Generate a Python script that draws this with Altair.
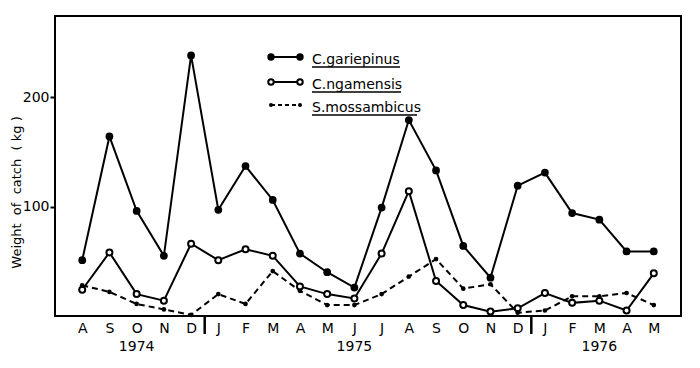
import altair as alt
import pandas as pd

# ---- data ----
months = ["A", "S", "O", "N", "D",
          "J", "F", "M", "A", "M", "J", "J", "A", "S", "O", "N", "D",
          "J", "F", "M", "A", "M"]
gariepinus = [51, 164, 96, 55, 238, 97, 137, 106, 57, 40, 26, 99, 179, 133,
              64, 35, 119, 131, 94, 88, 59, 59]
ngamensis = [24, 58, 20, 14, 66, 51, 61, 55, 27, 20, 16, 57, 114, 32,
             10, 4, 7, 21, 12, 14, 5, 39]
mossambicus = [28, 22, 11, 6, 1, 20, 11, 41, 23, 10, 10, 20, 36, 52,
               25, 29, 3, 5, 18, 18, 21, 10]
years = ["1974", "1975", "1976"]
year_index = [2, 10, 19]
year_breaks = [4.5, 16.5]
y_ticks = [100, 200]

FONT = "DejaVu Sans"
idx = list(range(len(months)))
NB = "\u00a0"

def frame(vals):
    return pd.DataFrame({"i": idx, "v": vals})

label_expr = "[" + ",".join(f"'{m}'" for m in months) + "][datum.value]"
xs = alt.Scale(domain=[-1, 22], nice=False, zero=False)
ys = alt.Scale(domain=[0, 274], nice=False, zero=True)
x_axis = alt.Axis(
    values=idx, labelExpr=label_expr, tickSize=0, domain=False, grid=False,
    labelFontSize=14, labelFont=FONT, labelColor="black", labelPadding=5,
    labelFlush=False, labelOverlap=False, title=None)
y_axis = alt.Axis(
    values=y_ticks, tickSize=5, tickWidth=2, tickColor="black", domain=False,
    grid=False, labelFontSize=14, labelFont=FONT, labelColor="black",
    labelPadding=1,
    title=f"Weight{NB}{NB}of{NB}{NB}catch{NB}{NB}({NB}kg{NB})",
    titleFont=FONT, titleFontSize=13, titleFontWeight="normal",
    titleColor="black", titleX=-32, titleY=176)
x_enc = alt.X("i:Q", scale=xs, axis=x_axis)
y_enc = alt.Y("v:Q", scale=ys, axis=y_axis)

layers = []
# C. gariepinus
dg = frame(gariepinus)
layers.append(alt.Chart(dg).mark_line(color="black", strokeWidth=2).encode(x=x_enc, y=y_enc))
layers.append(alt.Chart(dg).mark_point(shape="circle", filled=True, color="black", size=60, opacity=1).encode(x=x_enc, y=y_enc))
# C. ngamensis
dn = frame(ngamensis)
layers.append(alt.Chart(dn).mark_line(color="black", strokeWidth=2).encode(x=x_enc, y=y_enc))
layers.append(alt.Chart(dn).mark_point(shape="circle", filled=True, fill="white", stroke="black", strokeWidth=2, size=36, opacity=1).encode(x=x_enc, y=y_enc))
# S. mossambicus
dm = frame(mossambicus)
layers.append(alt.Chart(dm).mark_line(color="black", strokeWidth=2, strokeDash=[6, 4]).encode(x=x_enc, y=y_enc))
layers.append(alt.Chart(dm).mark_point(shape="circle", filled=True, color="black", size=22, opacity=1).encode(x=x_enc, y=y_enc))

# year separators below the axis
sep = pd.DataFrame({"i": year_breaks})
layers.append(alt.Chart(sep).mark_rule(color="black", strokeWidth=2.5).encode(
    x=x_enc, y=alt.value(300), y2=alt.value(318)))
# year labels
yr = pd.DataFrame({"i": year_index, "t": years})
layers.append(alt.Chart(yr).mark_text(fontSize=14, font=FONT, color="black", baseline="middle").encode(
    x=x_enc, y=alt.value(331), text="t:N"))

# ---- manual legend ----
one = alt.Data(values=[{}])
legend_rows = [
    ("C.gariepinus", 41, "filled", 88),
    ("C.ngamensis", 66, "open", 89),
    ("S.mossambicus", 89, "small", 105),
]
for name, yy, kind, w in legend_rows:
    rule_kw = dict(color="black", strokeWidth=2)
    if kind == "small":
        rule_kw["strokeDash"] = [4, 3]
    layers.append(alt.Chart(one).mark_rule(**rule_kw).encode(
        x=alt.value(216), x2=alt.value(245), y=alt.value(yy)))
    for px in (216, 245):
        if kind == "filled":
            m = alt.Chart(one).mark_point(shape="circle", filled=True, color="black", size=55, opacity=1)
        elif kind == "open":
            m = alt.Chart(one).mark_point(shape="circle", filled=True, fill="white", stroke="black", strokeWidth=2, size=30, opacity=1)
        else:
            m = alt.Chart(one).mark_point(shape="circle", filled=True, color="black", size=16, opacity=1)
        layers.append(m.encode(x=alt.value(px), y=alt.value(yy)))
    layers.append(alt.Chart(one).mark_text(align="left", baseline="alphabetic", fontSize=14, font=FONT, color="black").encode(
        x=alt.value(257), y=alt.value(yy + 7), text=alt.value(name)))
    layers.append(alt.Chart(one).mark_rule(color="black", strokeWidth=1.5).encode(
        x=alt.value(257), x2=alt.value(257 + w), y=alt.value(yy + 10)))

chart = alt.layer(*layers).properties(
    width=626, height=300,
    autosize=alt.AutoSizeParams(type="none"),
    padding={"left": 47, "top": 8, "right": 5, "bottom": 44},
    background="white",
).configure_view(stroke="black", strokeWidth=2)

chart.save("out.html", embed_options={"renderer": "svg", "actions": False})
